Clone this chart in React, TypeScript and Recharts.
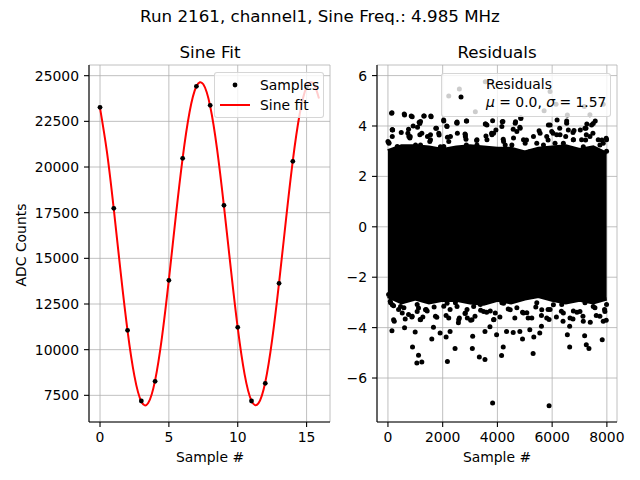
import { Area, CartesianGrid, ComposedChart, Legend, Line, Scatter, XAxis, YAxis } from 'recharts';

// --- left panel: samples and sine fit ---
const sampleIdx = [0, 1, 2, 3, 4, 5, 6, 7, 8, 9, 10, 11, 12, 13, 14, 15];
const sampleAdc = [23266, 17737, 11059, 7190, 8267, 13796, 20475, 24416, 23376, 17902, 11223, 7190, 8157, 13632, 20310, 24380];

const fitX = [0, 0.5, 1, 1.5, 2, 2.5, 3, 3.5, 4, 4.5, 5, 5.5, 6, 6.5, 7, 7.5, 8, 8.5, 9, 9.5, 10, 10.5, 11, 11.5, 12, 12.5, 13, 13.5, 14, 14.5, 15, 15.5, 15.9];
const fitY = [23230, 20840, 17690, 14230, 11030, 8550, 7160, 7080, 8320, 10690, 13830, 17280, 20490, 23000, 24420, 24530, 23330, 20980, 17850, 14420, 11190, 8650, 7200, 7060, 8220, 10550, 13660, 17090, 20350, 22900, 24380, 24560, 23750];

const fitTicksX = [0, 5, 10, 15];
const adcTicks = [7500, 10000, 12500, 15000, 17500, 20000, 22500, 25000];

// --- right panel: residuals ---
const resTicksX = [0, 2000, 4000, 6000, 8000];
const resTicksY = [-6, -4, -2, 0, 2, 4, 6];

// dense core of the residual cloud, edges read per 500 samples
const bandX = [0, 500, 1000, 1500, 2000, 2500, 3000, 3500, 4000, 4500, 5000, 5500, 6000, 6500, 7000, 7500, 7990];
const bandHigh = [3.0, 3.2, 3.2, 3.15, 3.05, 3.15, 3.2, 3.15, 3.1, 3.1, 2.95, 3.1, 3.15, 3.2, 3.05, 3.15, 2.9];
const bandLow = [-2.75, -3.0, -2.85, -3.0, -2.9, -2.9, -3.0, -3.05, -2.9, -3.0, -2.85, -2.75, -2.9, -3.0, -2.9, -3.0, -2.85];

// individual points outside the core
const resX = [
  134, 607, 886, 1311, 1578, 1190, 158, 2525, 2865, 2040, 2221, 2610, 3193, 3557, 3557,
  5924, 5706, 6143, 6555, 7175, 7381, 7867, 4855, 4200, 5924, 6531, 7236, 7502, 6799,
  146, 595, 850, 1141, 1323, 1566, 2036, 2149, 2513, 2877, 3570, 3825, 4177, 4662, 4857, 6180, 7267, 7575, 7818,
  0, 170, 486, 753, 813, 1080, 1238, 1445, 1748, 1870, 2173, 2537, 2816, 2852, 3241, 3581, 3788, 3946, 4213,
  4577, 4820, 5062, 5524, 5851, 6034, 6276, 6495, 6762, 7029, 7223, 7490, 7976,
  158, 36, 158, 728, 922, 1165, 801, 1165, 1554, 1529, 1772, 1857, 2160, 2283, 2525, 2828, 2865, 3252, 3617,
  3800, 3132, 2040, 1008, 340, 4163, 4650, 4710, 4832, 4953, 4528, 4225, 5560, 5802, 5863, 5984, 6288, 6531,
  6592, 6774, 7077, 7198, 7441, 7248, 7684, 7867, 7988, 5438, 5196, 6106,
  36, 765, 1190, 1554, 1918, 2222, 2829, 3253, 3618, 3860, 4285, 4589, 5014, 5318, 5682, 6168, 6410, 6775,
  7139, 7382, 7746, 7988,
  146, 231, 631, 607, 898, 995, 1056, 1117, 1238, 1178, 1602, 1663, 1785, 1906, 2125, 2173, 2270, 2452, 2574,
  2901, 3096, 3084, 3339, 3545, 3824, 3545, 3727, 3970, 4152, 4213, 4334, 4577, 4820, 4917, 5184, 5305, 5330,
  5548, 5609, 5888, 5888, 6398, 6556, 6640, 6640, 7187, 7248, 7345, 7830, 7976,
  24, 85, 206, 388, 753, 874, 1117, 1275, 1396, 1687, 2125, 2270, 2610, 2816, 3023, 3181, 3387, 3606, 3873,
  4091, 4395, 4637, 4917, 5123, 5403, 5609, 5851, 6155, 6337, 6762, 6908, 7126, 7393, 7612, 7915,
  158, 206, 522, 461, 886, 1068, 1190, 1372, 1736, 2161, 2221, 2525, 2586, 2828, 3071, 3132, 3496, 3860,
  3922, 4225, 4468, 4953, 5257, 5620, 5802, 6046, 6410, 6653, 7017, 7138, 7502, 7745, 7927, 7867,
  97, 583, 1068, 1433, 2040, 2465, 2890, 3375, 3739, 4164, 4711, 5075, 5439, 5925, 6350, 6775, 7199, 7564, 7988,
];
const resY = [
  4.51, 4.44, 4.37, 4.4, 4.37, 4.18, 3.85, 4.16, 4.2, 4.2, 5.19, 5.47, 4.57, 5.76, 4.08,
  5.37, 4.6, 4.86, 4.44, 4.77, 4.45, 4.86, 4.33, 4.18, 4.04, 4.2, 3.91, 4.1, 3.82,
  4.53, 4.48, 4.4, 4.15, 4.4, 4.4, 4.24, 4.0, 4.13, 4.2, 4.08, 4.21, 4.17, 4.17, 4.3, 4.24, 4.08, 4.2, 3.44,
  3.38, 3.84, 3.74, 3.87, 3.58, 3.95, 3.71, 3.58, 3.91, 3.64, 3.55, 3.71, 3.68, 3.47, 3.42, 3.6, 3.71, 3.84, 3.47,
  3.87, 3.95, 3.44, 3.81, 3.44, 3.71, 3.91, 3.58, 3.74, 3.84, 3.44, 3.71, 3.51,
  3.85, 3.34, 3.58, 3.71, 4.0, 4.1, 3.52, 3.65, 3.65, 3.38, 3.91, 3.71, 3.98, 3.58, 4.11, 3.65, 3.25, 3.45, 4.04,
  3.65, 3.12, 3.19, 3.25, 3.19, 3.98, 4.11, 3.78, 3.91, 3.45, 3.25, 3.38, 3.71, 3.58, 4.04, 3.78, 3.65, 4.11,
  3.84, 3.45, 3.45, 3.91, 4.04, 3.65, 3.45, 3.32, 3.0, 3.32, 2.99, 3.32,
  3.32, 3.58, 3.25, 3.45, 3.18, 3.38, 3.58, 3.25, 3.45, 3.71, 3.25, 3.52, 3.32, 3.58, 3.25, 3.65, 3.32, 3.45,
  3.18, 3.58, 3.25, 3.45,
  -4.12, -3.75, -3.66, -4.01, -4.77, -4.17, -5.4, -5.1, -5.36, -3.68, -4.45, -3.99, -3.59, -4.21, -4.37, -5.34, -4.15, -4.83, -3.81,
  -3.62, -4.34, -4.83, -5.17, -5.27, -6.99, -4.15, -3.97, -4.28, -5.11, -4.77, -4.15, -4.19, -4.15, -4.45, -4.08, -5.03, -4.37,
  -4.21, -3.95, -7.1, -3.68, -3.75, -4.28, -4.77, -3.95, -4.32, -4.68, -4.83, -4.48, -3.71,
  -2.69, -2.95, -3.13, -3.28, -3.48, -3.58, -3.22, -3.58, -3.28, -3.18, -3.52, -3.28, -3.62, -3.44, -3.71, -3.55, -3.31, -3.39, -3.68,
  -3.58, -3.26, -3.62, -3.39, -3.62, -3.18, -3.52, -3.28, -3.58, -3.35, -3.66, -3.39, -3.55, -3.79, -3.52, -3.28,
  -3.09, -3.69, -3.42, -3.16, -3.55, -3.36, -3.69, -3.29, -3.55, -3.03, -3.62, -3.16, -3.69, -3.42, -3.69, -3.16, -3.36, -3.69,
  -3.42, -3.03, -3.29, -3.42, -3.62, -3.29, -3.62, -3.09, -3.42, -3.62, -3.36, -3.75, -3.16, -3.55, -3.36, -3.75,
  -3.01, -3.21, -3.08, -3.34, -3.15, -3.01, -3.28, -3.08, -3.34, -3.01, -3.21, -3.41, -3.01, -3.28, -3.08, -3.34, -3.01, -3.21, -3.08,
];

const samples = sampleIdx.map((x, i) => ({ x, y: sampleAdc[i] }));
const fit = fitX.map((x, i) => ({ x, y: fitY[i] }));
const band = bandX.map((x, i) => ({ x, range: [bandLow[i], bandHigh[i]] }));
const residuals = resX.map((x, i) => ({ x, y: resY[i] }));

const FONT = '"DejaVu Sans", sans-serif';
const tickStyle = { fill: '#000', fontSize: 13.9, fontFamily: FONT };
const axisStroke = { stroke: '#000', strokeWidth: 1.1 };
const minus = (v: number) => String(v).replace('-', '\u2212');

const dotShape = (r: number) => (p: any) => <circle cx={p.cx} cy={p.cy} r={r} fill="#000" />;

const legendBox: React.CSSProperties = {
  position: 'relative',
  boxSizing: 'border-box',
  background: 'rgba(255,255,255,0.8)',
  border: '1px solid rgba(204,204,204,0.8)',
  borderRadius: 3,
  fontFamily: FONT,
  fontSize: 13.9,
  color: '#000',
};

function FitLegend({ payload }: any) {
  const items = payload || [];
  return (
    <div style={{ ...legendBox, width: 110, height: 46 }}>
      {items.map((e: any, i: number) => (
        <div key={e.value} style={{ position: 'absolute', left: 0, top: 2 + i * 20.3, height: 20, width: 108, display: 'flex', alignItems: 'center' }}>
          <svg width={44} height={20} style={{ flex: 'none' }}>
            {e.type === 'line' ? (
              <line x1={5} x2={35} y1={10} y2={10} stroke={e.color} strokeWidth={2} />
            ) : (
              <circle cx={20} cy={10} r={2.4} fill="#000" />
            )}
          </svg>
          <span style={{ marginLeft: 1 }}>{e.value}</span>
        </div>
      ))}
    </div>
  );
}

function ResLegend() {
  return (
    <div style={{ ...legendBox, width: 170, height: 44 }}>
      <svg width={40} height={44} style={{ position: 'absolute', left: 0, top: 0 }}>
        <circle cx={19} cy={23} r={2.5} fill="#000" />
      </svg>
      <div style={{ position: 'absolute', left: 44, top: 1, lineHeight: '18px', whiteSpace: 'nowrap' }}>
        <div>Residuals</div>
        <div>
          <i>μ</i> = 0.0, <i>σ</i> = 1.57
        </div>
      </div>
    </div>
  );
}

const centered = (left: number, top: number, size: number): React.CSSProperties => ({
  position: 'absolute',
  left,
  top,
  transform: 'translate(-50%, -50%)',
  fontFamily: FONT,
  fontSize: size,
  whiteSpace: 'nowrap',
  color: '#000',
});

export default function App() {
  return (
    <div style={{ position: 'absolute', left: 0, top: 0, width: 640, height: 480, background: '#fff', overflow: 'hidden' }}>
      <div style={centered(320, 16, 16.7)}>Run 2161, channel1, Sine Freq.: 4.985 MHz</div>
      <div style={centered(210, 52, 16.7)}>Sine Fit</div>
      <div style={centered(497, 52, 16.7)}>Residuals</div>

      <div style={{ position: 'absolute', left: 0, top: 0 }}>
        <ComposedChart width={340} height={480} margin={{ top: 65, right: 10, bottom: 18, left: 0 }}>
          <CartesianGrid stroke="#b0b0b0" strokeWidth={0.8} />
          <XAxis dataKey="x" type="number" domain={[-0.8, 16.7]} ticks={fitTicksX} interval={0} allowDataOverflow
            height={40} tick={tickStyle} tickSize={5} tickMargin={5} tickLine={axisStroke} axisLine={axisStroke} />
          <YAxis type="number" domain={[6040, 25585]} ticks={adcTicks} interval={0} allowDataOverflow
            width={89} tick={tickStyle} tickSize={5} tickMargin={5} tickLine={axisStroke} axisLine={axisStroke} />
          <XAxis xAxisId="frame" orientation="top" type="number" domain={[0, 1]} height={0} tick={false} tickLine={false} axisLine={axisStroke} />
          <YAxis yAxisId="frame" orientation="right" type="number" domain={[0, 1]} width={0} tick={false} tickLine={false} axisLine={axisStroke} />
          <Scatter name="Samples" data={samples} dataKey="y" fill="#000" shape={dotShape(2.4)} isAnimationActive={false} />
          <Line name="Sine fit" data={fit} dataKey="y" type="natural" stroke="#ff0000" strokeWidth={2} dot={false} activeDot={false} isAnimationActive={false} />
          <Legend layout="vertical" align="center" verticalAlign="middle" content={<FitLegend />}
            wrapperStyle={{ left: 214, top: 72, width: 110, height: 46 }} />
        </ComposedChart>
      </div>
      <div style={{ position: 'absolute', left: 0, top: 0, width: 340 }}>
        <div style={{ ...centered(21, 245, 13.9), transform: 'translate(-50%, -50%) rotate(-90deg)' }}>ADC Counts</div>
        <div style={centered(210, 457, 13.9)}>Sample #</div>
      </div>

      <div style={{ position: 'absolute', left: 340, top: 0 }}>
        <ComposedChart width={300} height={480} margin={{ top: 65, right: 23, bottom: 18, left: 0 }}>
          <CartesianGrid stroke="#b0b0b0" strokeWidth={0.8} />
          <XAxis dataKey="x" type="number" domain={[-400, 8370]} ticks={resTicksX} interval={0} allowDataOverflow
            height={40} tick={tickStyle} tickSize={5} tickMargin={5} tickLine={axisStroke} axisLine={axisStroke} />
          <YAxis type="number" domain={[-7.745, 6.42]} ticks={resTicksY} interval={0} allowDataOverflow tickFormatter={minus}
            width={37} tick={tickStyle} tickSize={5} tickMargin={5} tickLine={axisStroke} axisLine={axisStroke} />
          <XAxis xAxisId="frame" orientation="top" type="number" domain={[0, 1]} height={0} tick={false} tickLine={false} axisLine={axisStroke} />
          <YAxis yAxisId="frame" orientation="right" type="number" domain={[0, 1]} width={0} tick={false} tickLine={false} axisLine={axisStroke} />
          <Area data={band} dataKey="range" type="linear" fill="#000" fillOpacity={1} stroke="#000" strokeWidth={4}
            legendType="none" activeDot={false} isAnimationActive={false} />
          <Scatter name="Residuals" data={residuals} dataKey="y" fill="#000" shape={dotShape(2.5)} isAnimationActive={false} />
          <Legend layout="vertical" align="center" verticalAlign="middle" content={<ResLegend />}
            wrapperStyle={{ left: 101, top: 73, width: 170, height: 44 }} />
        </ComposedChart>
      </div>
      <div style={{ position: 'absolute', left: 340, top: 0, width: 300 }}>
        <div style={centered(157, 457, 13.9)}>Sample #</div>
      </div>
    </div>
  );
}
